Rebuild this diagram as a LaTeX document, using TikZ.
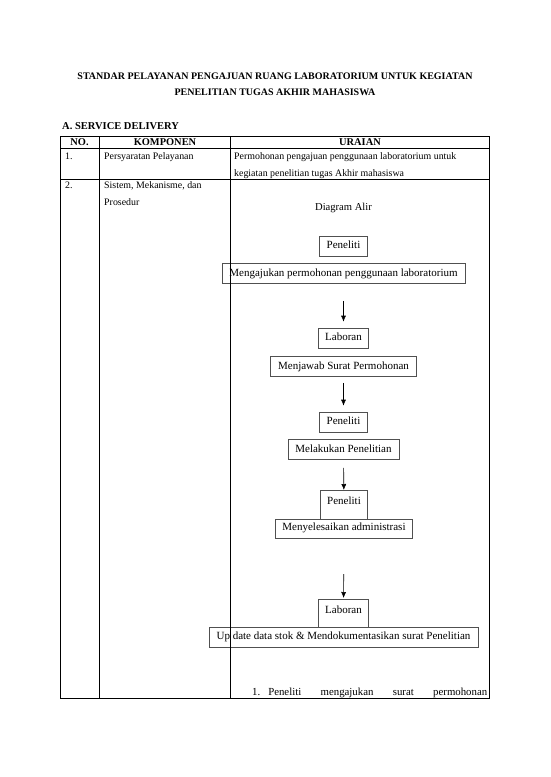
\documentclass[tikz,border=0pt]{standalone}
\usepackage{fontspec}
\setmainfont{Liberation Serif}
\usetikzlibrary{arrows.meta,positioning}
\definecolor{boxline}{HTML}{505050}

\begin{document}
\begin{tikzpicture}[x=1pt, y=-1pt, node distance=7pt,
    every node/.style={inner sep=0pt},
    flowbox/.style={draw=boxline, line width=0.6pt, fill=white, font=\fontsize{11}{12}\selectfont,
      text height=7.5pt, text depth=2.5pt, minimum height=20pt, inner xsep=3pt},
    tallbox/.style={flowbox, minimum height=0pt, inner ysep=7pt, text depth=11.5pt},
    cell/.style={font=\fontsize{9.9}{11}\selectfont, anchor=base west},
    head/.style={font=\fontsize{10.4}{12}\selectfont\bfseries, anchor=base},
    flowarrow/.style={-{Latex[length=6pt,width=5pt]}, line width=0.6pt},
    grid/.style={line width=0.8pt}]
  \useasboundingbox (0,0) rectangle (550,777);

  % title
  \node[font=\fontsize{10}{12}\selectfont\bfseries, anchor=base] (title1) at (275,79) {STANDAR PELAYANAN PENGAJUAN RUANG LABORATORIUM UNTUK KEGIATAN};
  \node[font=\fontsize{10}{12}\selectfont\bfseries, anchor=base] (title2) at (275,95) {PENELITIAN TUGAS AKHIR MAHASISWA};
  \node[font=\fontsize{10.5}{12}\selectfont\bfseries, anchor=base west] (section) at (62,129) {A. SERVICE DELIVERY};

  % table header and rows
  \node[head] (hno) at (79.5,145.5) {NO.};
  \node[head] (hkomp) at (165,145.5) {KOMPONEN};
  \node[head] (hurai) at (360,145.5) {URAIAN};
  \node[cell] (no1) at (65,159.5) {1.};
  \node[cell] (komp1) at (104,159.5) {Persyaratan Pelayanan};
  \node[cell] (urai1a) at (234,159.5) {Permohonan pengajuan penggunaan laboratorium untuk};
  \node[cell] (urai1b) at (234,176.5) {kegiatan penelitian tugas Akhir mahasiswa};
  \node[cell] (no2) at (65,188.5) {2.};
  \node[cell] (komp2a) at (104,188.5) {Sistem, Mekanisme, dan};
  \node[cell] (komp2b) at (104,205.5) {Prosedur};
  \node[font=\fontsize{10.6}{12}\selectfont, anchor=base] (judul) at (343.5,210) {Diagram Alir};

  % flow
  \node[flowbox, minimum width=48pt] (peneliti1) at (343.5,246) {Peneliti};
  \node[flowbox, minimum width=243pt, below=of peneliti1] (ajukan) {Mengajukan permohonan penggunaan laboratorium};
  \node[flowbox, minimum width=50pt] (laboran1) at (343.5,338) {Laboran};
  \node[flowbox, minimum width=146pt, below=8pt of laboran1] (jawab) {Menjawab Surat Permohonan};
  \node[flowbox, minimum width=48pt] (peneliti2) at (343.5,422) {Peneliti};
  \node[flowbox, minimum width=111pt, below=of peneliti2] (teliti) {Melakukan Penelitian};
  \node[tallbox, minimum width=47pt, anchor=north] (peneliti3) at (344,490) {Peneliti};
  \node[flowbox, minimum width=137pt, minimum height=19pt, below=-5pt of peneliti3] (selesai) {Menyelesaikan administrasi};
  \node[tallbox, minimum width=50pt, anchor=north] (laboran2) at (343.5,599) {Laboran};
  \node[flowbox, minimum width=269pt, below=-6pt of laboran2] (update) {Up date data stok \& Mendokumentasikan surat Penelitian};

  \draw[flowarrow, shorten <=17pt, shorten >=6pt] (ajukan) -- (laboran1);
  \draw[flowarrow, shorten <=6pt, shorten >=6pt] (jawab) -- (peneliti2);
  \draw[flowarrow, shorten <=8pt] (teliti) -- (peneliti3);
  \draw[flowarrow, shorten <=36pt, shorten >=1pt] (selesai) -- (laboran2);

  \node[cell, font=\fontsize{10.8}{12}\selectfont, text width=235pt] (langkah1) at (252,695.5) {1.\hspace{8pt}Peneliti\hfill mengajukan\hfill surat\hfill permohonan};

  % table lines
  \draw[grid] (60,136) rectangle (489,698);
  \draw[grid] (60,148) -- (489,148);
  \draw[grid] (60,179) -- (489,179);
  \draw[grid] (99.5,136) -- (99.5,698);
  \draw[grid] (230.5,136) -- (230.5,698);
\end{tikzpicture}
\end{document}
